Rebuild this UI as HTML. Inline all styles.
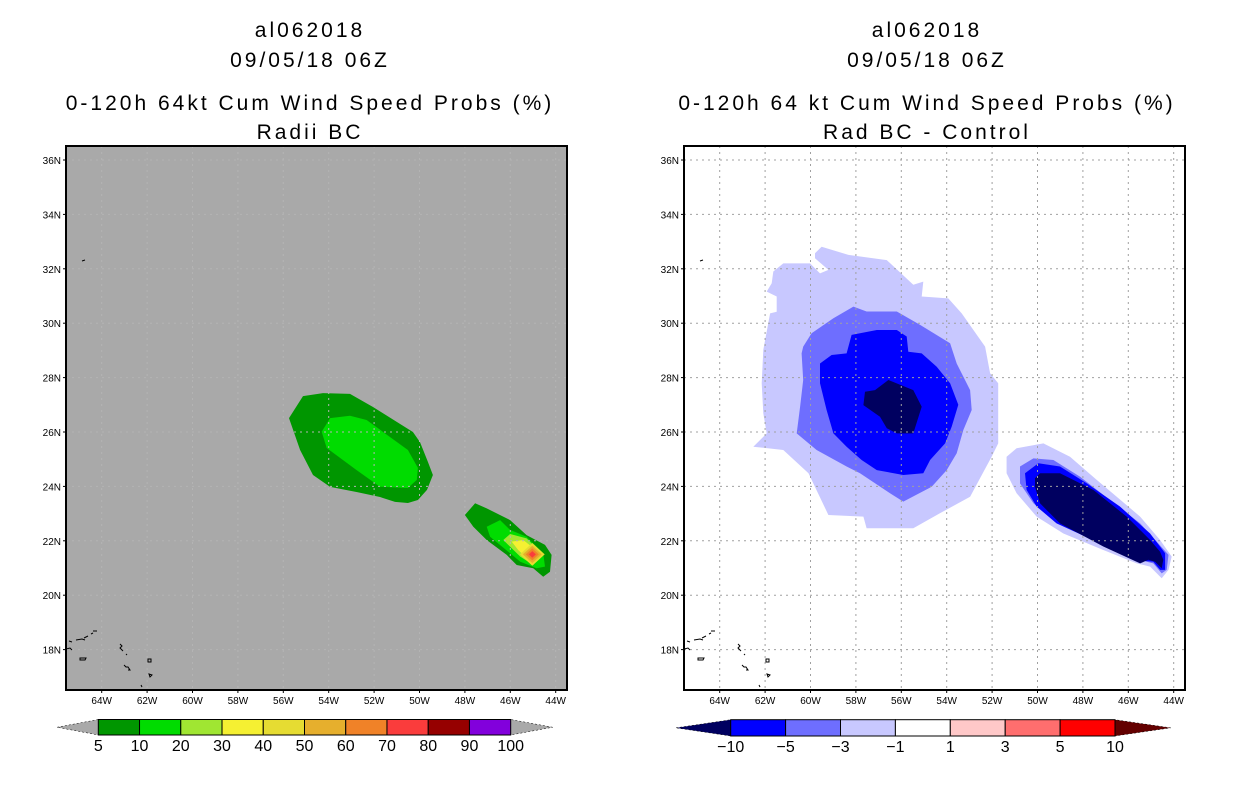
<!DOCTYPE html>
<html><head><meta charset="utf-8"><style>
body{margin:0;background:#fff;width:1236px;height:800px;overflow:hidden}
svg{display:block}
text{font-family:"Liberation Sans",sans-serif}
</style></head><body>
<svg id="s" width="1236" height="800">
<g id="titles" font-size="21" text-anchor="middle" letter-spacing="3">
<text x="310" y="37">al062018</text>
<text x="310" y="67">09/05/18 06Z</text>
<text x="310" y="110">0-120h 64kt Cum Wind Speed Probs (%)</text>
<text x="310" y="139">Radii BC</text>
<text x="927" y="37">al062018</text>
<text x="927" y="67">09/05/18 06Z</text>
<text x="927" y="110">0-120h 64 kt Cum Wind Speed Probs (%)</text>
<text x="927" y="139">Rad BC - Control</text>
</g>
</svg>
<script>
// ---- data (lon in degrees West, lat in degrees North) ----
const lonTicks=[64,62,60,58,56,54,52,50,48,46,44];
const latTicks=[36,34,32,30,28,26,24,22,20,18];
const leftLevels=[5,10,20,30,40,50,60,70,80,90,100];
const leftColors=['#009600','#00dc00','#a0e632','#f5f032','#e6dc32','#e6af2d','#f08228','#fa3c3c','#960000','#8200dc'];
const rightLevels=[-10,-5,-3,-1,1,3,5,10];
const rightColors=['#000060','#0000ff','#6e6eff','#c8c8ff','#ffffff','#ffc8c8','#ff6e6e','#ff0000'];
const L_big5_lon=[55.75,55.13,54.25,53.06,52.05,50.29,49.98,49.63,49.41,49.67,50.07,50.51,51.08,51.74,52.75,53.94,54.69,55.26];
const L_big5_lat=[26.51,27.32,27.43,27.40,26.92,26.0,25.63,24.90,24.42,23.87,23.50,23.39,23.43,23.61,23.79,23.98,24.42,25.34];
const L_big10_lon=[54.31,53.94,53.06,52.33,50.51,50.07,50.12,50.51,51.74,52.77,54.09];
const L_big10_lat=[26.01,26.51,26.60,26.44,25.34,24.68,24.24,23.94,23.99,24.60,25.41];
const L_sm5_lon=[48.0,47.55,47.04,46.01,45.28,44.47,44.18,44.25,44.55,44.99,45.72,46.16,47.04,47.63];
const L_sm5_lat=[22.95,23.38,23.19,22.76,22.21,21.85,21.48,20.86,20.68,20.99,21.11,21.48,22.03,22.52];
const L_sm10_lon=[47.04,46.45,46.01,45.28,44.55,44.47,44.84,45.56,46.01,46.89];
const L_sm10_lat=[22.52,22.76,22.40,22.15,21.54,21.05,20.99,21.23,21.54,22.15];
const L_sm20_lon=[46.31,46.01,45.28,44.62,44.99,45.56];
const L_sm20_lat=[22.03,22.25,22.09,21.54,21.11,21.42];
const L_sm30_lon=[45.94,45.43,44.69,45.06,45.65];
const L_sm30_lat=[21.97,22.03,21.54,21.20,21.66];
const L_peak_lon=45.03, L_peak_lat=21.50;
const L_peakRadii=[0.42,0.32,0.22,0.12];
const L_peakColorIdx=[4,5,6,7];
const R_a1_lon=[59.80,59.51,58.33,56.64,55.47,55.03,55.10,53.93,53.34,52.31,52.09,51.73,51.73,52.02,52.97,54.30,55.47,57.53,57.67,59.21,60.09,61.20,62.52,61.93,62.08,62.15,62.08,61.78,61.49,61.49,61.93,61.71,61.64,61.20,60.02,59.58,59.21,59.80];
const R_a1_lat=[32.57,32.81,32.51,32.32,31.41,31.53,30.98,30.91,30.36,29.14,28.16,27.79,25.58,25.09,23.62,23.01,22.46,22.46,22.89,22.95,24.48,25.34,25.46,25.95,26.69,27.79,29.02,30.36,30.42,30.98,31.16,31.47,31.90,32.20,32.20,31.83,31.96,32.39];
const R_a3_lon=[60.32,59.95,58.99,58.11,57.53,56.20,55.18,53.85,53.56,52.97,52.90,53.27,53.56,54.00,54.66,55.91,56.50,57.82,58.41,59.73,60.61,60.46,60.32,60.39];
const R_a3_lat=[29.14,29.63,30.18,30.61,30.43,30.43,29.94,29.26,28.52,27.54,26.81,26.07,25.22,24.60,23.99,23.44,23.75,24.48,24.73,25.34,25.95,26.93,27.91,28.89];
const R_a5_lon=[59.58,59.07,58.41,58.19,57.08,56.20,55.76,55.69,55.10,54.44,53.85,53.49,53.78,54.07,54.73,55.03,55.91,57.08,57.75,58.41,58.99,59.29,59.58];
const R_a5_lat=[28.52,28.83,28.89,29.57,29.75,29.75,29.51,28.95,28.89,28.40,27.79,27.00,26.20,25.58,24.97,24.48,24.42,24.60,24.97,25.46,25.95,26.81,27.79];
const R_a10_lon=[57.60,57.16,56.57,55.47,55.10,55.47,56.20,56.64,56.94,57.67];
const R_a10_lat=[27.48,27.54,27.91,27.54,26.93,25.95,25.95,26.14,26.56,26.99];
const R_b1_lon=[51.36,50.92,49.74,48.57,47.39,46.51,45.48,44.60,44.09,44.23,44.53,45.04,45.63,47.10,48.86,50.04,50.92,51.36];
const R_b1_lat=[25.09,25.40,25.58,25.09,24.24,23.62,22.89,22.03,21.42,20.93,20.62,21.05,21.17,21.66,22.27,22.89,23.75,24.48];
const R_b3_lon=[50.77,50.18,49.30,48.13,46.81,45.48,44.75,44.23,44.31,44.53,44.90,45.48,47.39,49.16,50.18,50.77];
const R_b3_lat=[24.73,25.03,24.97,24.36,23.50,22.64,21.97,21.48,20.93,20.80,21.17,21.29,22.03,22.64,23.38,24.11];
const R_b5_lon=[50.55,49.96,49.01,47.83,46.37,45.04,44.38,44.38,44.60,44.90,45.63,47.25,49.16,50.04,50.48];
const R_b5_lat=[24.48,24.85,24.73,24.11,23.26,22.27,21.54,20.93,20.93,21.23,21.29,21.91,22.64,23.26,23.87];
const R_b10_lon=[50.11,49.89,49.01,47.54,46.07,45.04,44.60,44.46,44.53,44.82,45.12,45.48,47.10,49.01,49.89,50.11];
const R_b10_lat=[24.30,24.48,24.48,23.87,22.89,22.03,21.60,21.30,20.99,21.23,21.30,21.17,21.79,22.64,23.38,23.99];

const NS='http://www.w3.org/2000/svg';
const svg=document.getElementById('s');
function mk(tag,attrs,parent){const e=document.createElementNS(NS,tag);for(const k in attrs)e.setAttribute(k,attrs[k]);(parent||svg).appendChild(e);return e;}
const Y0=146,W=501,H=544;
function xScale(lon,off){return off+35.7+(64-lon)*22.7;}
function yScale(lat){return 160+(36-lat)*27.2;}
function pts(lons,lats,off){return lons.map((l,i)=>xScale(l,off).toFixed(1)+','+yScale(lats[i]).toFixed(1)).join(' ');}

function panel(off,bg,gridCol,name){
  const g=mk('g',{});
  
  
  const cid='clip'+off;
  const cp=mk('clipPath',{id:cid},g);mk('rect',{x:off,y:Y0,width:W,height:H},cp);
  const bgr=mk('rect',{x:off,y:Y0,width:W,height:H,fill:bg},g);
  
  
  const cg=mk('g',{'clip-path':'url(#'+cid+')'},g);
  return {g,cg,off,gridCol};
}
function poly(p,lons,lats,color,name){
  const e=mk('polygon',{points:pts(lons,lats,p.off),fill:color},p.cg);
  
  
}
function finish(p){
  const {g,cg,off,gridCol}=p;
  lonTicks.forEach(l=>{const x=xScale(l,off);
    const ln=mk('line',{x1:x,y1:Y0,x2:x,y2:Y0+H,stroke:gridCol,'stroke-width':1,'stroke-dasharray':'2,4'},cg);
    
    
    mk('line',{x1:x,y1:Y0+H,x2:x,y2:Y0+H+3,stroke:'#000'},g);
    const t=mk('text',{x:x,y:Y0+H+14,'font-size':10,'text-anchor':'middle'},g);t.textContent=l+'W';
    
    });
  latTicks.forEach(l=>{const y=yScale(l);
    const ln=mk('line',{x1:off,y1:y,x2:off+W,y2:y,stroke:gridCol,'stroke-width':1,'stroke-dasharray':'2,4'},cg);
    
    
    mk('line',{x1:off-3,y1:y,x2:off,y2:y,stroke:'#000'},g);
    const t=mk('text',{x:off-5,y:y+4,'font-size':10,'text-anchor':'end'},g);t.textContent=l+'N';
    
    });
  const isl=mk('g',{fill:'none',stroke:'#000','stroke-width':1},cg);
  
  
  const o=off-66;
  ['M82 261 l3 -1','M66 649 l4 -1 l2 2','M69 641 l3 1','M76 640 l6 -1 l3 1','M84 638 l4 -2','M91 634 l2 -1','M80 658 h6 l-1 2 h-5 z','M93 631 h4','M120 644 l2 2 l-2 2 l3 3','M126 654 l1 1','M124 665 l2 2 l2 0 l2 3 h-2','M148 659 v3 h3 v-3 z','M149 674 l3 1 l-2 2 z','M141 685 l1 2'].forEach(d=>{mk('path',{d:d,transform:'translate('+o+',0)'},isl);});
  mk('rect',{x:off,y:Y0,width:W,height:H,fill:'none',stroke:'#000','stroke-width':2},g);
}
const P1=panel(66,'#a9a9a9','#b4b4b4','left-map');
poly(P1,L_big5_lon,L_big5_lat,leftColors[0],'contour-5-10-north');
poly(P1,L_big10_lon,L_big10_lat,leftColors[1],'contour-10-20-north');
poly(P1,L_sm5_lon,L_sm5_lat,leftColors[0],'contour-5-10-south');
poly(P1,L_sm10_lon,L_sm10_lat,leftColors[1],'contour-10-20-south');
poly(P1,L_sm20_lon,L_sm20_lat,leftColors[2],'contour-20-30');
poly(P1,L_sm30_lon,L_sm30_lat,leftColors[3],'contour-30-40');
L_peakRadii.forEach((r,i)=>{
  const e=mk('polygon',{points:pts([L_peak_lon+r*1.3,L_peak_lon,L_peak_lon-r*1.3,L_peak_lon],[L_peak_lat,L_peak_lat+r,L_peak_lat,L_peak_lat-r],66),fill:leftColors[L_peakColorIdx[i]]},P1.cg);
  
  
});
finish(P1);
const P2=panel(684,'#ffffff','#a0a0a0','right-map');
poly(P2,R_a1_lon,R_a1_lat,rightColors[3],'diff-minus1-north');
poly(P2,R_a3_lon,R_a3_lat,rightColors[2],'diff-minus3-north');
poly(P2,R_a5_lon,R_a5_lat,rightColors[1],'diff-minus5-north');
poly(P2,R_a10_lon,R_a10_lat,rightColors[0],'diff-minus10-north');
poly(P2,R_b1_lon,R_b1_lat,rightColors[3],'diff-minus1-south');
poly(P2,R_b3_lon,R_b3_lat,rightColors[2],'diff-minus3-south');
poly(P2,R_b5_lon,R_b5_lat,rightColors[1],'diff-minus5-south');
poly(P2,R_b10_lon,R_b10_lat,rightColors[0],'diff-minus10-south');
finish(P2);

function colorbar(x0,x1,tipL,tipR,y0,y1,colors,labels,lowC,highC,name){
  const g=mk('g',{});
  
  
  const ym=(y0+y1)/2, n=colors.length, w=(x1-x0)/n;
  mk('polygon',{points:`${tipL},${ym} ${x0},${y0} ${x0},${y1}`,fill:lowC,stroke:'#000','stroke-width':0.5,'stroke-dasharray':'2,2'},g);
  mk('polygon',{points:`${tipR},${ym} ${x1},${y0} ${x1},${y1}`,fill:highC,stroke:'#000','stroke-width':0.5,'stroke-dasharray':'2,2'},g);
  colors.forEach((c,i)=>{const r=mk('rect',{x:x0+i*w,y:y0,width:w,height:y1-y0,fill:c,stroke:'#000','stroke-width':1},g);
    
    });
  labels.forEach((l,i)=>{const t=mk('text',{x:x0+i*w,y:y1+16,'font-size':16,'text-anchor':'middle'},g);t.textContent=String(l).replace('-','\u2212');
    
    });
}
colorbar(98.3,510.7,57,552.7,719.5,735,leftColors,leftLevels,'#a9a9a9','#a9a9a9','left-colorbar');
colorbar(730.7,1115,676,1170.7,719.7,736,rightColors.slice(1),rightLevels,'#000060','#640000','right-colorbar');
</script>
</body></html>
